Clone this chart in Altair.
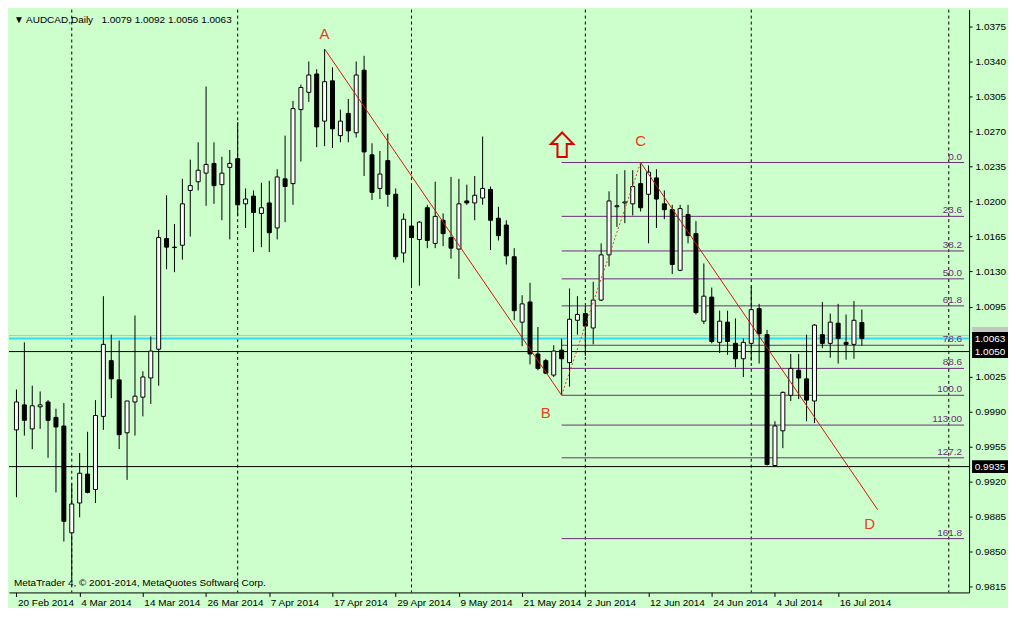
import altair as alt
import pandas as pd

FONT = "Liberation Sans"
BG = "#CCFFCC"
PURPLE = "#6E2C7A"
RED = "#D01808"

# ---- candle data (AUDCAD daily, 20 Feb 2014 .. 21 Jul 2014) ----
opens = [0.99717, 0.99967, 0.99727, 0.99948, 0.99996, 0.99842, 0.99756, 0.98688, 0.98986, 0.99275,
         0.99121, 0.99852, 1.00409, 1.00217, 0.99688, 0.99996, 1.00044, 1.00236, 1.00524, 1.01630,
         1.01544, 1.01563, 1.02111, 1.02198, 1.02284, 1.02381, 1.02169, 1.02342, 1.02429, 1.01977,
         1.02054, 1.01881, 1.01986, 1.01736, 1.02227, 1.02179, 1.02919, 1.03092, 1.03275, 1.02804,
         1.03207, 1.02659, 1.02881, 1.02688, 1.03313, 1.02467, 1.02131, 1.02409, 1.02073, 1.01486,
         1.01755, 1.01621, 1.01938, 1.01582, 1.01813, 1.01640, 1.01525, 1.02006, 1.01986, 1.02035,
         1.02121, 1.01833, 1.01765, 1.01448, 1.00794, 1.00996, 1.00476, 1.00409, 1.00265, 1.00515,
         1.00390, 1.00813, 1.00880, 1.00736, 1.01015, 1.01467, 1.01948, 1.01986, 1.01977, 1.02179,
         1.02073, 1.02236, 1.01977, 1.01919, 1.01313, 1.01871, 1.01679, 1.00804, 1.01044, 1.00592,
         1.00794, 1.00582, 1.00428, 1.00582, 1.00929, 1.00669, 0.99361, 0.99708, 1.00063, 1.00313,
         1.00227, 1.00006, 1.00669, 1.00582, 1.00784, 1.00592, 1.00572, 1.00790]
highs = [1.00121, 1.00592, 1.00159, 1.00101, 1.00015, 0.99929, 0.99986, 0.99179, 0.99486, 0.99698,
         1.00015, 1.01054, 1.00669, 1.00611, 1.00006, 1.00861, 1.00303, 1.00650, 1.01717, 1.02063,
         1.01775, 1.02227, 1.02419, 1.02592, 1.03150, 1.02592, 1.02448, 1.02515, 1.02794, 1.02131,
         1.02111, 1.02188, 1.02207, 1.02323, 1.02659, 1.03006, 1.03169, 1.03400, 1.03323, 1.03525,
         1.03342, 1.02919, 1.03025, 1.03400, 1.03457, 1.02582, 1.02506, 1.02679, 1.02131, 1.01881,
         1.02169, 1.01804, 1.01967, 1.02198, 1.01881, 1.02246, 1.02227, 1.02169, 1.02255, 1.02650,
         1.02150, 1.01948, 1.01813, 1.01534, 1.01063, 1.01188, 1.00746, 1.00428, 1.00563, 1.00630,
         1.01131, 1.01054, 1.00957, 1.01198, 1.01582, 1.02102, 1.02275, 1.02313, 1.02313, 1.02390,
         1.02361, 1.02323, 1.02111, 1.01967, 1.01967, 1.01967, 1.01804, 1.01381, 1.01140, 1.00909,
         1.00909, 1.00832, 1.00630, 1.01150, 1.00977, 1.00717, 0.99804, 1.00101, 1.00476, 1.00476,
         1.00669, 1.00775, 1.00996, 1.00880, 1.00977, 1.00871, 1.01005, 1.00920]
lows = [0.99044, 0.99660, 0.99525, 0.99727, 0.99438, 0.99092, 0.98601, 0.98227, 0.98842, 0.99082,
        0.98986, 0.99717, 1.00034, 0.99525, 0.99217, 0.99660, 0.99852, 0.99977, 1.00159, 1.01323,
        1.01294, 1.01419, 1.01650, 1.02111, 1.01958, 1.01977, 1.01813, 1.01621, 1.01852, 1.01736,
        1.01496, 1.01544, 1.01496, 1.01621, 1.01794, 1.01967, 1.02400, 1.02996, 1.02544, 1.02554,
        1.02534, 1.02592, 1.02592, 1.02640, 1.02255, 1.02015, 1.02025, 1.01948, 1.01419, 1.01390,
        1.01159, 1.01159, 1.01534, 1.01534, 1.01554, 1.01429, 1.01227, 1.01967, 1.01813, 1.01967,
        1.01515, 1.01611, 1.01371, 1.00813, 1.00553, 1.00371, 1.00313, 1.00275, 1.00246, 1.00063,
        1.00150, 1.00669, 1.00457, 1.00572, 1.01005, 1.01352, 1.01746, 1.01784, 1.01861, 1.01900,
        1.01582, 1.01736, 1.01823, 1.01275, 1.01304, 1.01582, 1.00871, 1.00775, 1.00582, 1.00486,
        1.00467, 1.00342, 1.00246, 1.00409, 1.00380, 0.99361, 0.99350, 0.99534, 1.00006, 1.00025,
        0.99804, 0.99785, 1.00534, 1.00438, 1.00380, 1.00419, 1.00428, 1.00560]
closes = [0.99996, 0.99813, 0.99958, 0.99967, 0.99813, 0.99746, 0.98803, 0.98976, 0.99284, 0.99092,
          0.99861, 1.00572, 1.00227, 0.99669, 1.00006, 1.00054, 1.00246, 1.00505, 1.01640, 1.01544,
          1.01540, 1.01977, 1.02159, 1.02313, 1.02371, 1.02159, 1.02284, 1.02381, 1.01967, 1.02025,
          1.01890, 1.01938, 1.01688, 1.02246, 1.02150, 1.02929, 1.03140, 1.03265, 1.02746, 1.03198,
          1.02727, 1.02804, 1.02707, 1.03265, 1.02496, 1.02092, 1.02275, 1.02073, 1.01448, 1.01823,
          1.01640, 1.01794, 1.01611, 1.01852, 1.01679, 1.01534, 1.01977, 1.01986, 1.02063, 1.02131,
          1.01813, 1.01659, 1.01457, 1.00909, 1.00977, 1.00476, 1.00332, 1.00284, 1.00505, 1.00428,
          1.00823, 1.00871, 1.00755, 1.01015, 1.01467, 1.02006, 1.01958, 1.01996, 1.02150, 1.01938,
          1.02294, 1.02025, 1.01919, 1.01371, 1.01929, 1.01659, 1.00890, 1.01054, 1.00601, 1.00804,
          1.00601, 1.00428, 1.00592, 1.00919, 1.00678, 0.99371, 0.99756, 1.00092, 1.00332, 1.00236,
          1.00015, 1.00765, 1.00582, 1.00794, 1.00630, 1.00572, 1.00813, 1.00630]

# ---- axes ----
date_ticks = [0, 8, 16, 24, 32, 40, 48, 56, 64, 72, 80, 88, 96, 104]
date_labels = ["20 Feb 2014", "4 Mar 2014", "14 Mar 2014", "26 Mar 2014", "7 Apr 2014",
               "17 Apr 2014", "29 Apr 2014", "9 May 2014", "21 May 2014", "2 Jun 2014",
               "12 Jun 2014", "24 Jun 2014", "4 Jul 2014", "16 Jul 2014"]
month_separators = [7, 28, 50, 72, 93, 118]
price_ticks = [0.9815, 0.9850, 0.9885, 0.9920, 0.9955, 0.9990, 1.0025, 1.0095, 1.0130,
               1.0165, 1.0200, 1.0235, 1.0270, 1.0305, 1.0340, 1.0375]

# ---- Fibonacci levels (drawn from bar B=69 to the right edge) ----
fib_labels = ["0.0", "23.6", "38.2", "50.0", "61.8", "78.6", "88.6", "100.0", "113.00", "127.2", "161.8"]
fib_prices = [1.02390, 1.01852, 1.01506, 1.01227, 1.00957, 1.00563, 1.00332, 1.00063, 0.99765, 0.99438, 0.98630]
fib_start = 69

# ---- horizontal price lines ----
hline_prices = [1.0066, 1.0063, 1.0050, 0.9935]
hline_colors = ["#BEBEBE", "#33DDEE", "#000000", "#000000"]
hline_widths = [1, 2, 1, 1]

# ---- right-axis price boxes ----
grey_box_price = [1.0068]
box_labels = ["1.0063", "1.0050", "0.9935"]
box_prices = [1.0063, 1.0050, 0.9935]

# ---- wave lines A-B, C-D, dotted B-C ----
wave_seg = ["AB", "AB", "CD", "CD"]
wave_idx = [39, 69, 79, 109]
wave_px = [1.03525, 1.00063, 1.02390, 0.98919]
bc_idx = [69, 79]
bc_px = [1.00063, 1.02390]

letters = ["A", "B", "C", "D"]
letter_idx = [39, 67, 79, 108]
letter_px = [1.03679, 0.99881, 1.02602, 0.98775]

arrow_idx = [69.06]
arrow_px = [1.02568]

W, H = 962, 584
BAR_PX = 8
XMIN = -0.3125
XMAX = XMIN + W / BAR_PX
YMIN, YMAX = 0.98092, 1.03919

xs = alt.Scale(domain=[XMIN, XMAX], nice=False, zero=False)
ys = alt.Scale(domain=[YMIN, YMAX], nice=False, zero=False)

label_expr = "[" + ",".join("'%s'" % d for d in date_labels) + "][round(datum.value/8)]"

x_axis = alt.Axis(values=date_ticks, labelExpr=label_expr, orient="bottom", title=None,
                  grid=False, labelAlign="left", labelOffset=1, labelPadding=1, tickSize=4,
                  labelFlush=False, labelOverlap=False, domainColor="black", tickColor="black",
                  labelColor="black", labelFont=FONT, labelFontSize=10, labelBaseline="top")
y_axis = alt.Axis(values=price_ticks, format=".4f", orient="right", title=None, grid=False,
                  tickSize=3, labelPadding=3, domainColor="black", tickColor="black",
                  labelColor="black", labelFont=FONT, labelFontSize=10, labelBaseline="middle",
                  labelOverlap=False)


def X(field):
    return alt.X(field, scale=xs, axis=x_axis, title=None)


def Y(field):
    return alt.Y(field, scale=ys, axis=y_axis, title=None)


df = pd.DataFrame({"i": list(range(len(opens))), "o": opens, "h": highs, "l": lows, "c": closes})

wicks = alt.Chart(df).mark_rule(color="black", strokeWidth=1).encode(
    x=X("i:Q"), y=Y("l:Q"), y2="h:Q")
bodies = alt.Chart(df).mark_bar(size=4, stroke="black", strokeWidth=1).encode(
    x=X("i:Q"), y=Y("o:Q"), y2="c:Q",
    fill=alt.condition("datum.c > datum.o", alt.value("white"), alt.value("black")),
)

sep = alt.Chart(pd.DataFrame({"m": month_separators})).mark_rule(
    color="black", strokeDash=[3, 3], strokeWidth=1).encode(x=X("m:Q"))

hl_df = pd.DataFrame({"p": hline_prices, "col": hline_colors, "w": hline_widths})
hlines = alt.Chart(hl_df).mark_rule().encode(
    y=Y("p:Q"),
    color=alt.Color("col:N", scale=None),
    strokeWidth=alt.StrokeWidth("w:Q", scale=None),
)

fib_df = pd.DataFrame({"lvl": fib_labels, "p": fib_prices,
                       "x0": [fib_start] * len(fib_prices), "x1": [XMAX] * len(fib_prices)})
fib_rules = alt.Chart(fib_df).mark_rule(color=PURPLE, strokeWidth=1).encode(
    x=X("x0:Q"), x2="x1:Q", y=Y("p:Q"))
fib_text = alt.Chart(fib_df).mark_text(align="right", baseline="bottom", dx=-2, dy=-1,
                                       color=PURPLE, font=FONT, fontSize=10).encode(
    x=X("x1:Q"), y=Y("p:Q"), text="lvl:N")

wave_df = pd.DataFrame({"seg": wave_seg, "i": wave_idx, "p": wave_px})
waves = alt.Chart(wave_df).mark_line(color=RED, strokeWidth=1).encode(
    x=X("i:Q"), y=Y("p:Q"), detail="seg:N")
bc = alt.Chart(pd.DataFrame({"i": bc_idx, "p": bc_px})).mark_line(
    color="#E04020", strokeWidth=1, strokeDash=[2, 2]).encode(x=X("i:Q"), y=Y("p:Q"))

letter_df = pd.DataFrame({"t": letters, "i": letter_idx, "p": letter_px})
letter_marks = alt.Chart(letter_df).mark_text(color="#E8401C", font=FONT, fontSize=15,
                                              baseline="middle", align="center").encode(
    x=X("i:Q"), y=Y("p:Q"), text="t:N")

arrow_path = "M0,-1 L0.92,-0.05 L0.38,-0.05 L0.38,1 L-0.38,1 L-0.38,-0.05 L-0.92,-0.05 Z"
arrow = alt.Chart(pd.DataFrame({"i": arrow_idx, "p": arrow_px})).mark_point(
    shape=arrow_path, size=600, filled=False, stroke="#E00000", strokeWidth=2, opacity=1).encode(
    x=X("i:Q"), y=Y("p:Q"))

box_path = "M-1,-0.36 L1,-0.36 L1,0.36 L-1,0.36 Z"
grey_box = alt.Chart(pd.DataFrame({"p": grey_box_price})).mark_point(
    shape=box_path, size=1296, filled=True, opacity=1, strokeWidth=0, fill="#C4C4C4").encode(
    x=alt.value(W + 21), y=Y("p:Q"))
box_df = pd.DataFrame({"t": box_labels, "p": box_prices})
boxes = alt.Chart(box_df).mark_point(shape=box_path, size=1296, filled=True, opacity=1,
                                     strokeWidth=0, fill="black").encode(
    x=alt.value(W + 21), y=Y("p:Q"))
box_labels_mark = alt.Chart(box_df).mark_text(font=FONT, fontSize=10, align="center",
                                              baseline="middle", color="white").encode(
    x=alt.value(W + 21), y=Y("p:Q"), text="t:N")

header = alt.Chart(pd.DataFrame({"t": ["\u25BC AUDCAD,Daily\u00a0\u00a0 1.0079 1.0092 1.0056 1.0063"]})).mark_text(
    align="left", baseline="middle", font=FONT, fontSize=10, color="black").encode(
    x=alt.value(5), y=alt.value(10), text="t:N")
footer = alt.Chart(pd.DataFrame({"t": ["MetaTrader 4, \u00a9 2001-2014, MetaQuotes Software Corp."]})).mark_text(
    align="left", baseline="middle", font=FONT, fontSize=10, color="black").encode(
    x=alt.value(5), y=alt.value(H - 9), text="t:N")

chart = alt.layer(
    sep, hlines, fib_rules, fib_text, wicks, bodies, waves, bc, letter_marks, arrow,
    grey_box, boxes, box_labels_mark, header, footer
).properties(
    width=W, height=H, padding=0, background=BG
).configure_view(stroke=None, fill=BG)

chart.save("out.html", embed_options={"renderer": "svg", "actions": False})
